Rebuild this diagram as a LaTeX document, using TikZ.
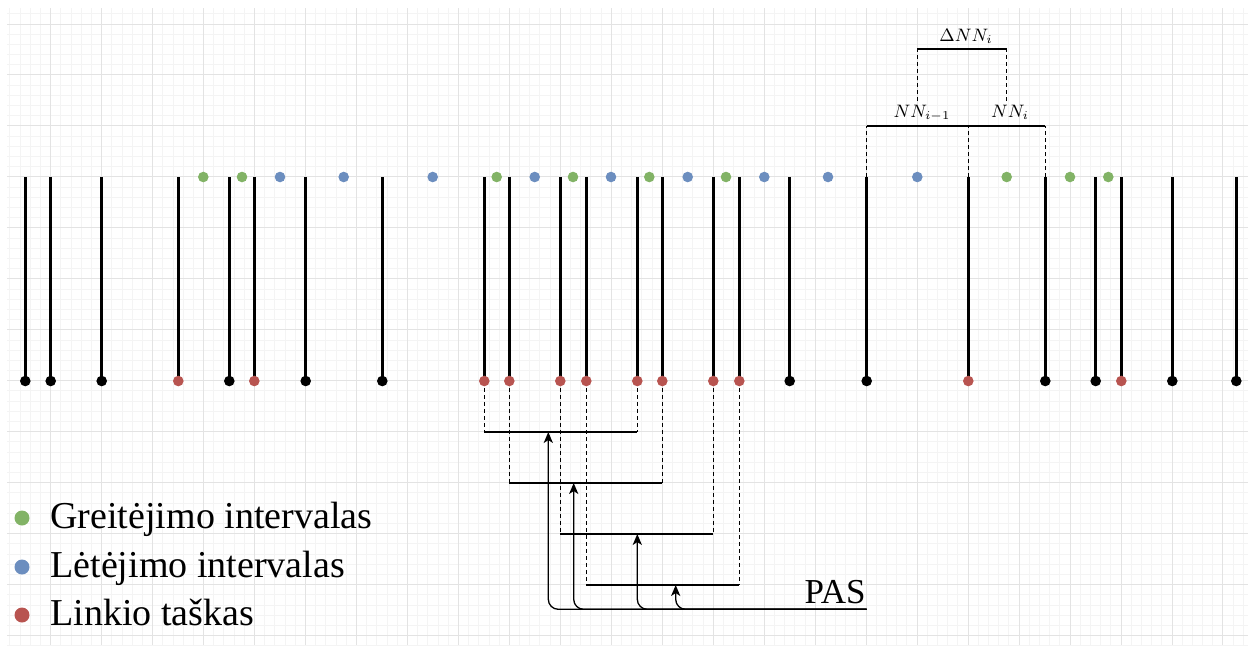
\documentclass[tikz,border=0pt]{standalone}
\usepackage{amsmath}
\usepackage{fontspec}
\setmainfont{Liberation Serif}
\usetikzlibrary{arrows.meta}

\definecolor{accgreen}{HTML}{82B366}
\definecolor{decblue}{HTML}{6C8EBF}
\definecolor{bendred}{HTML}{B85450}
\definecolor{gridminor}{HTML}{F4F4F4}
\definecolor{gridmajor}{HTML}{E3E3E3}

\begin{document}
\begin{tikzpicture}[x=0.5pt, y=-0.5pt,
  stick/.style={line width=1.5pt},
  bar/.style={line width=1.15pt},
  guide/.style={line width=0.65pt, dash pattern=on 2pt off 1.5pt},
  feed/.style={-{Stealth[length=5.5pt, width=4.6pt, inset=1.5pt]}, line width=0.65pt, rounded corners=5pt},
  pt/.style={circle, inner sep=0pt, minimum size=5.3pt},
  legdot/.style={circle, inner sep=0pt, minimum size=7.5pt},
  legtext/.style={anchor=base west, inner sep=0pt, font=\fontsize{19}{22}\selectfont},
  nnlabel/.style={anchor=base, inner sep=2pt, font=\fontsize{8.6}{10}\selectfont}]
\useasboundingbox (0,0) rectangle (1254,645);
\begin{scope}
\clip (7,8) rectangle (1248,645);
\foreach \m in {0,...,122}
  \draw[gridminor, line width=0.5pt] ({9.9+10.194*\m},8) -- ({9.9+10.194*\m},645);
\foreach \n in {0,...,62}
  \draw[gridminor, line width=0.5pt] (7,{13.8+10.194*\n}) -- (1248,{13.8+10.194*\n});
\foreach \k in {0,...,23}
  \draw[gridmajor, line width=0.5pt] ({50.67+50.97*\k},8) -- ({50.67+50.97*\k},645);
\foreach \k in {0,...,12}
  \draw[gridmajor, line width=0.5pt] (7,{24+50.97*\k}) -- (1248,{24+50.97*\k});
\end{scope}
\foreach \x/\c [count=\i] in {25.3/black, 50.7/black, 101.7/black, 178.3/bendred, 229.3/black, 254.3/bendred,
  305.7/black, 382.3/black, 484.3/bendred, 509.3/bendred, 560.3/bendred, 586.3/bendred, 637.3/bendred,
  662.3/bendred, 713.3/bendred, 739.3/bendred, 789.7/black, 866.7/black, 968.3/bendred, 1045.3/black,
  1095.7/black, 1121.3/bendred, 1172.3/black, 1236.3/black} {
  \coordinate (t\i) at (\x,177);
  \draw[stick] (t\i) -- (\x,381) node[pt, fill=\c] (p\i) {};
}
\foreach \x/\c [count=\j] in {203.3/accgreen, 242/accgreen, 280/decblue, 343.7/decblue, 432.7/decblue,
  496.7/accgreen, 534.7/decblue, 573/accgreen, 611/decblue, 649.3/accgreen, 687.7/decblue, 726/accgreen,
  764.3/decblue, 828/decblue, 917.3/decblue, 1006.7/accgreen, 1070/accgreen, 1108.3/accgreen}
  \node[pt, fill=\c] (d\j) at (\x,177) {};
\coordinate (pas) at (866.7,609.3);
\node[anchor=base east, inner sep=0pt, font=\fontsize{17.5}{20}\selectfont] (pastext) at (866,603.3) {PAS};
\foreach \l/\r/\y/\a [count=\j] in {9/13/432/548.3, 10/14/483/573.7, 11/15/534/637.3, 12/16/585/675.7} {
  \coordinate (lvl\j) at (0,\y);
  \coordinate (bm\j) at (\a,\y);
  \draw[guide] (p\l) -- (p\l |- lvl\j);
  \draw[guide] (p\r) -- (p\r |- lvl\j);
  \draw[bar] (p\l |- lvl\j) -- (p\r |- lvl\j);
  \draw[feed] (pas) -| (bm\j);
}
\coordinate (topbar) at (0,126);
\coordinate (upbar) at (0,49.3);
\draw[guide] (t18) -- (t18 |- topbar);
\draw[guide] (t19) -- (t19 |- topbar);
\draw[guide] (t20) -- (t20 |- topbar);
\draw[bar] (t18 |- topbar) -- (t20 |- topbar);
\node[nnlabel] (nnprev) at (922,117.5) {$NN_{i-1}$};
\node[nnlabel] (nncur) at (1010,117.5) {$NN_i$};
\draw[guide] (d15 |- nnprev.north) -- (d15 |- upbar);
\draw[guide] (d16 |- nncur.north) -- (d16 |- upbar);
\draw[bar] (d15 |- upbar) -- (d16 |- upbar);
\node[nnlabel] (dnn) at (966,41.7) {$\Delta NN_i$};
\node[legdot, fill=accgreen] (lg1) at (22,518) {};
\node[legdot, fill=decblue] (lg2) at (22,567) {};
\node[legdot, fill=bendred] (lg3) at (22,615) {};
\node[legtext] (lt1) at (50,528) {Greitėjimo intervalas};
\node[legtext] (lt2) at (50,577) {Lėtėjimo intervalas};
\node[legtext] (lt3) at (50,625) {Linkio taškas};
\end{tikzpicture}
\end{document}
